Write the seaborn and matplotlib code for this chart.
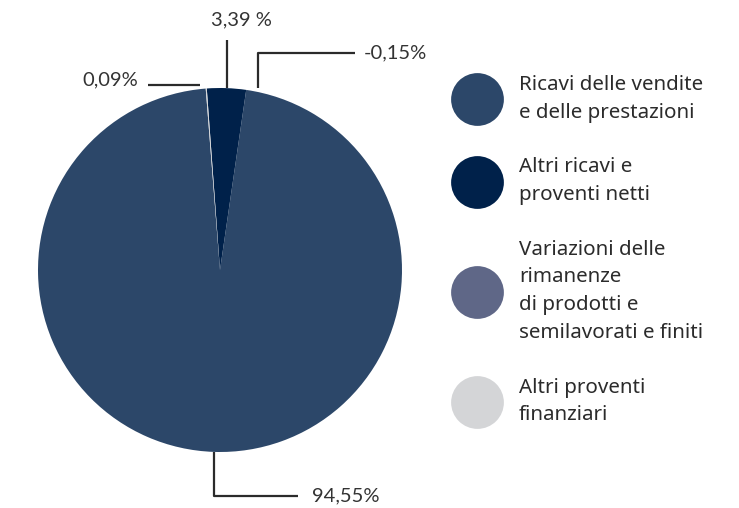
import numpy as np
import matplotlib
matplotlib.use('Agg')
import matplotlib.pyplot as plt
from matplotlib.lines import Line2D
import seaborn as sns

# data
categories = [
    'Ricavi delle vendite\ne delle prestazioni',
    'Altri ricavi e\nproventi netti',
    'Variazioni delle\nrimanenze\ndi prodotti e\nsemilavorati e finiti',
    'Altri proventi\nfinanziari',
]
values = [94.55, 3.39, -0.15, 0.09]
value_labels = ['94,55%', '3,39 %', '-0,15%', '0,09%']
colors = ['#2c4769', '#00214a', '#5f6787', '#d4d5d7']

W, H = 739, 508
CX, CY, R = 220, 270, 182  # pie centre / radius in pixels


def px(x, y):
    # pixel position -> pie data coords (radius 1)
    return ((x - CX) / R, (CY - y) / R)


sns.set_theme(style='white')
plt.rcParams['font.family'] = ['Lato', 'DejaVu Sans']

fig = plt.figure(figsize=(W / 100, H / 100), dpi=100)
ax = fig.add_axes([20 / W, 0, 400 / W, 1])

# a pie cannot show a negative share: draw it with zero width
sizes = [max(v, 0) for v in values]
wedges, _ = ax.pie(sizes, colors=colors, startangle=94.5, radius=1,
                   wedgeprops=dict(linewidth=0))
ax.set_xlim(px(20, 0)[0], px(420, 0)[0])
ax.set_ylim(px(0, H)[1], px(0, 0)[1])
ax.set_aspect('auto')
ax.axis('off')

line_kw = dict(color='#2b2b2b', lw=1.6, solid_capstyle='butt')
txt_kw = dict(fontsize=14.5, color='#333333', va='center')


def mid_angle(w):
    return np.deg2rad((w.theta1 + w.theta2) / 2)


# 94,55% - from bottom of main wedge down, then right
a = mid_angle(wedges[0])
x0, y0 = np.cos(a), np.sin(a)
yb = px(0, 496)[1]
xe = px(298, 0)[0]
ax.plot([x0, x0, xe], [y0, yb, yb], **line_kw)
ax.text(px(312, 0)[0], yb, value_labels[0], ha='left', **txt_kw)

# 3,39 % - straight up from the navy wedge
a = mid_angle(wedges[1])
x0, y0 = np.cos(a), np.sin(a)
yt = px(0, 40)[1]
ax.plot([x0, x0], [y0, yt], **line_kw)
ax.text(px(241, 0)[0], px(0, 20)[1], value_labels[1], ha='center', **txt_kw)

# -0,15% - elbow to the right
xa, ya = px(258, 88)
xb, yb = px(355, 53)
ax.plot([xa, xa, xb], [ya, yb, yb], **line_kw)
ax.text(px(364, 0)[0], yb, value_labels[2], ha='left', **txt_kw)

# 0,09% - horizontal to the left
xa, ya = px(200, 85)
xb = px(148, 0)[0]
ax.plot([xa, xb], [ya, ya], **line_kw)
ax.text(px(138, 0)[0], px(0, 80)[1], value_labels[3], ha='right', **txt_kw)

# legend with big round markers
handles = [Line2D([], [], marker='o', ls='', ms=38, mfc=c, mec='none')
           for c in colors]
leg = fig.legend(handles, categories, loc='upper left',
                 bbox_to_anchor=(451 / W, 1 - 75 / H), frameon=False,
                 prop=dict(family=['Noto Sans', 'DejaVu Sans'], size=14.8),
                 handlelength=2.5, handletextpad=0.8, labelspacing=1.68,
                 borderpad=0, borderaxespad=0)
for t in leg.get_texts():
    t.set_linespacing(1.52)
    t.set_color('#2b2b2b')

fig.savefig('out.png', dpi=100)
